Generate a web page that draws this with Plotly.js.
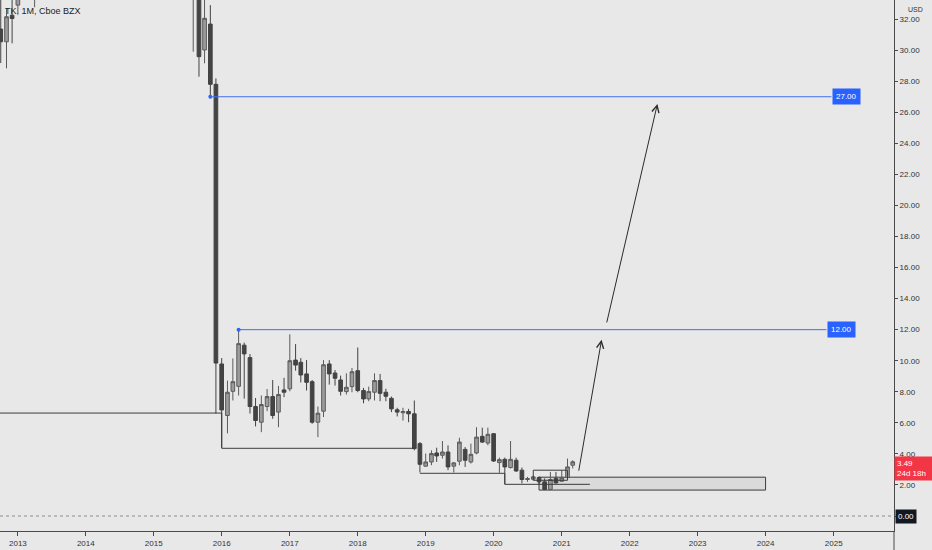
<!DOCTYPE html>
<html>
<head>
<meta charset="utf-8">
<script src="https://cdn.plot.ly/plotly-3.0.1.min.js"></script>
<style>
  html, body { margin: 0; padding: 0; background: #e8e8e8; }
  #chart { width: 932px; height: 550px; }
</style>
</head>
<body>
<div id="chart"></div>
<script>
// Monthly candles (TK, 1M, Cboe BZX)
const dates = ['2012-10-01','2012-11-01','2012-12-01','2013-01-01','2013-04-01',
  '2015-08-01','2015-09-01','2015-10-01','2015-11-01','2015-12-01',
  '2016-01-01','2016-02-01','2016-03-01','2016-04-01','2016-05-01','2016-06-01','2016-07-01','2016-08-01','2016-09-01','2016-10-01','2016-11-01','2016-12-01',
  '2017-01-01','2017-02-01','2017-03-01','2017-04-01','2017-05-01','2017-06-01','2017-07-01','2017-08-01','2017-09-01','2017-10-01','2017-11-01','2017-12-01',
  '2018-01-01','2018-02-01','2018-03-01','2018-04-01','2018-05-01','2018-06-01','2018-07-01','2018-08-01','2018-09-01','2018-10-01','2018-11-01','2018-12-01',
  '2019-01-01','2019-02-01','2019-03-01','2019-04-01','2019-05-01','2019-06-01','2019-07-01','2019-08-01','2019-09-01','2019-10-01','2019-11-01','2019-12-01',
  '2020-01-01','2020-02-01','2020-03-01','2020-04-01','2020-05-01','2020-06-01','2020-07-01','2020-08-01','2020-09-01','2020-10-01','2020-11-01','2020-12-01',
  '2021-01-01','2021-02-01','2021-03-01'];
const openP = [31.36,30.54,32.25,32.9,33.5,
  33.5,34.0,30.01,31.68,27.8,
  9.79,6.47,8.03,8.35,11.0,10.2,7.05,6.04,7.05,7.69,6.69,8.12,
  8.19,10.04,9.9,9.15,8.65,6.04,6.75,9.79,9.21,8.76,8.01,8.33,
  9.36,8.08,7.54,7.97,8.72,7.97,7.58,6.84,6.65,6.73,6.58,4.66,
  3.21,3.48,4.06,3.91,4.12,3.21,3.53,4.29,3.48,4.06,5.13,4.7,
  5.3,3.44,3.65,3.12,3.59,2.95,2.35,2.37,2.48,2.2,1.71,2.42,
  2.24,2.48,3.27];
const highP = [33.6,32.71,33.5,34.2,34.4,
  35.0,34.5,33.6,32.9,28.18,
  10.17,8.72,10.15,11.95,11.17,10.43,7.6,7.76,8.18,8.76,8.38,8.9,
  11.7,11.07,10.17,10.04,8.76,7.05,10.04,10.04,9.4,9.04,9.19,9.53,
  10.85,8.25,8.33,9.19,9.15,8.19,7.69,6.97,6.97,6.9,7.44,4.76,
  4.02,4.23,4.4,4.83,4.55,3.48,5.04,4.44,4.66,5.72,5.69,5.69,
  5.34,3.76,3.76,4.83,3.76,3.12,2.52,2.6,2.55,2.42,2.84,2.84,
  2.95,3.7,3.59];
const lowP = [29.17,28.83,30.44,32.37,32.76,
  29.9,28.29,29.15,27.0,6.6,
  4.4,5.32,7.44,7.76,7.56,6.6,5.77,5.4,6.75,6.26,5.72,7.65,
  8.03,9.36,8.6,8.08,5.94,5.08,6.37,8.46,8.4,7.76,7.82,7.97,
  7.97,7.26,7.39,7.44,7.39,7.39,6.69,6.41,6.15,6.04,4.23,2.8,
  3.16,3.27,3.48,3.7,2.95,2.8,3.27,3.16,3.38,3.97,4.7,4.55,
  3.48,2.78,2.05,3.06,2.84,2.1,2.2,2.3,2.05,1.67,1.67,2.1,
  2.2,2.42,3.06];
const closeP = [30.54,32.15,32.04,33.8,34.0,
  34.5,29.58,32.05,27.8,9.85,
  6.83,7.97,8.65,11.1,10.44,7.05,6.15,7.18,7.69,6.47,7.82,7.97,
  10.0,9.72,9.08,8.61,6.04,6.62,9.74,9.15,8.87,8.03,8.29,9.29,
  8.08,7.54,8.01,8.72,7.9,7.71,6.9,6.69,6.73,6.58,4.34,3.33,
  3.48,4.02,3.87,4.12,3.16,3.42,4.76,3.59,3.97,5.08,4.76,5.26,
  3.54,3.63,3.16,3.65,2.9,2.35,2.4,2.52,2.2,1.71,2.35,2.13,
  2.46,3.16,3.49];

// Price axis ticks
const priceTicks = [0,2,4,6,8,10,12,14,16,18,20,22,24,26,28,30,32];

// Horizontal target levels (blue)
const levelValues = [27, 12];
const levelStart = ['2015-11-01', '2016-04-01'];
const levelEnd = ['2024-12-20', '2024-11-23'];
const levelLabelX = ['2025-03-10', '2025-02-12'];
const levelLabels = ['27.00', '12.00'];

// Support step lines (drawn)
const stepX0 = ['2012-08-01','2016-01-01','2016-01-01','2018-12-01','2020-03-01','2020-03-01'];
const stepY0 = [6.63, 6.63, 4.36, 2.75, 2.75, 2.04];
const stepX1 = ['2016-01-01','2016-01-01','2018-11-01','2020-03-01','2020-03-01','2021-06-01'];
const stepY1 = [6.63, 4.36, 4.36, 2.75, 2.04, 2.04];

// Zone boxes
const zoneBox = {x0: '2020-09-01', x1: '2024-01-01', y0: 1.67, y1: 2.5};
const smallBox = {x0: '2020-08-01', x1: '2021-02-01', y0: 2.3, y1: 2.95};

// Projection arrows (tail -> head)
const arrowTailX = ['2021-04-01', '2021-08-29'];
const arrowTailY = [2.82, 12.37];
const arrowHeadX = ['2021-08-03', '2022-05-30'];
const arrowHeadY = [11.35, 26.54];

const lastPrice = 3.49;
const countdown = '24d 18h';

const BG = '#e8e8e8';
const AX = '#4a4a4a';

const traces = [
  {
    type: 'candlestick',
    x: dates, open: openP, high: highP, low: lowP, close: closeP,
    increasing: {line: {color: '#5a5a5a', width: 1}, fillcolor: '#9c9c9c'},
    decreasing: {line: {color: '#424242', width: 1}, fillcolor: '#444444'},
    hoverinfo: 'skip', showlegend: false
  },
  {
    type: 'scatter', mode: 'markers',
    x: levelStart, y: levelValues,
    marker: {color: '#2962ff', size: 4},
    hoverinfo: 'skip', showlegend: false
  }
];

const shapes = [];
// zero dotted line
shapes.push({type: 'line', xref: 'paper', x0: 0, x1: 1, yref: 'y', y0: 0, y1: 0,
  line: {color: '#8c8c8c', width: 1, dash: 'dot'}});
// level lines
for (let i = 0; i < levelValues.length; i++) {
  shapes.push({type: 'line', xref: 'x', yref: 'y', x0: levelStart[i], x1: levelEnd[i],
    y0: levelValues[i], y1: levelValues[i], line: {color: '#3f6ef0', width: 1}});
}
// step lines
for (let i = 0; i < stepX0.length; i++) {
  shapes.push({type: 'line', xref: 'x', yref: 'y', x0: stepX0[i], x1: stepX1[i],
    y0: stepY0[i], y1: stepY1[i], line: {color: '#3c3c3c', width: 1}});
}
// boxes
shapes.push({type: 'rect', xref: 'x', yref: 'y', x0: zoneBox.x0, x1: zoneBox.x1, y0: zoneBox.y0, y1: zoneBox.y1,
  fillcolor: '#dadada', line: {color: '#3c3c3c', width: 1}, layer: 'below'});
shapes.push({type: 'rect', xref: 'x', yref: 'y', x0: smallBox.x0, x1: smallBox.x1, y0: smallBox.y0, y1: smallBox.y1,
  fillcolor: 'rgba(0,0,0,0)', line: {color: '#3c3c3c', width: 1}});
// extend price axis line to bottom
shapes.push({type: 'line', xref: 'paper', yref: 'paper', x0: 1, x1: 1, y0: 0, y1: -0.05,
  line: {color: AX, width: 1}});

const annotations = [];
annotations.push({xref: 'paper', yref: 'paper', x: 0, y: 1, xanchor: 'left', yanchor: 'top',
  xshift: 3, yshift: -4, text: 'TK, 1M, Cboe BZX', showarrow: false,
  font: {family: 'Liberation Sans, Arial, sans-serif', size: 9, color: '#222'}});
annotations.push({xref: 'paper', yref: 'paper', x: 1, y: 1, xanchor: 'left', yanchor: 'top',
  xshift: 12, yshift: -4, text: 'USD', showarrow: false,
  font: {family: 'Liberation Sans, Arial, sans-serif', size: 7, color: '#333'}});
for (let i = 0; i < levelValues.length; i++) {
  annotations.push({xref: 'x', yref: 'y', x: levelLabelX[i], y: levelValues[i], text: levelLabels[i],
    showarrow: false, bgcolor: '#2962ff', borderpad: 3,
    font: {family: 'Liberation Sans, Arial, sans-serif', size: 8, color: '#ffffff'}});
}
for (let i = 0; i < arrowTailX.length; i++) {
  annotations.push({xref: 'x', yref: 'y', axref: 'x', ayref: 'y',
    x: arrowHeadX[i], y: arrowHeadY[i], ax: arrowTailX[i], ay: arrowTailY[i],
    text: '', showarrow: true, arrowhead: 5, arrowsize: 1.4, arrowwidth: 1, arrowcolor: '#2b2b2b'});
}
annotations.push({xref: 'paper', yref: 'y', x: 1, y: lastPrice, xanchor: 'left', yanchor: 'top',
  yshift: 6, text: lastPrice.toFixed(2) + '<br>' + countdown, align: 'left', showarrow: false,
  bgcolor: '#f23645', borderpad: 2, width: 34,
  font: {family: 'Liberation Sans, Arial, sans-serif', size: 8, color: '#ffffff'}});
annotations.push({xref: 'paper', yref: 'y', x: 1, y: 0, xanchor: 'left', yanchor: 'middle',
  text: '0.00', showarrow: false, bgcolor: '#131722', borderpad: 2, xshift: 1,
  font: {family: 'Liberation Sans, Arial, sans-serif', size: 8, color: '#ffffff'}});

const layout = {
  width: 932, height: 550,
  paper_bgcolor: BG, plot_bgcolor: BG,
  margin: {l: 0, r: 38.4, t: 0, b: 19, pad: 0},
  showlegend: false,
  boxgap: 0.3, boxgroupgap: 0,
  xaxis: {
    type: 'date', range: ['2012-09-27', '2025-11-21'],
    tick0: '2013-01-01', dtick: 'M12', tickformat: '%Y',
    ticks: 'outside', ticklen: 4, tickcolor: AX,
    showline: true, linecolor: AX, linewidth: 1,
    showgrid: false, zeroline: false, rangeslider: {visible: false},
    tickfont: {family: 'Liberation Sans, Arial, sans-serif', size: 8, color: '#333'},
    fixedrange: true, automargin: false
  },
  yaxis: {
    side: 'right', range: [-0.966, 33.23],
    tickvals: priceTicks, tickformat: '.2f',
    ticks: 'outside', ticklen: 3, tickcolor: AX,
    showline: true, linecolor: AX, linewidth: 1,
    showgrid: false, zeroline: false,
    tickfont: {family: 'Liberation Sans, Arial, sans-serif', size: 8, color: '#333'},
    fixedrange: true, automargin: false
  },
  shapes: shapes,
  annotations: annotations
};

Plotly.newPlot('chart', traces, layout, {displayModeBar: false, staticPlot: true});
</script>
</body>
</html>
